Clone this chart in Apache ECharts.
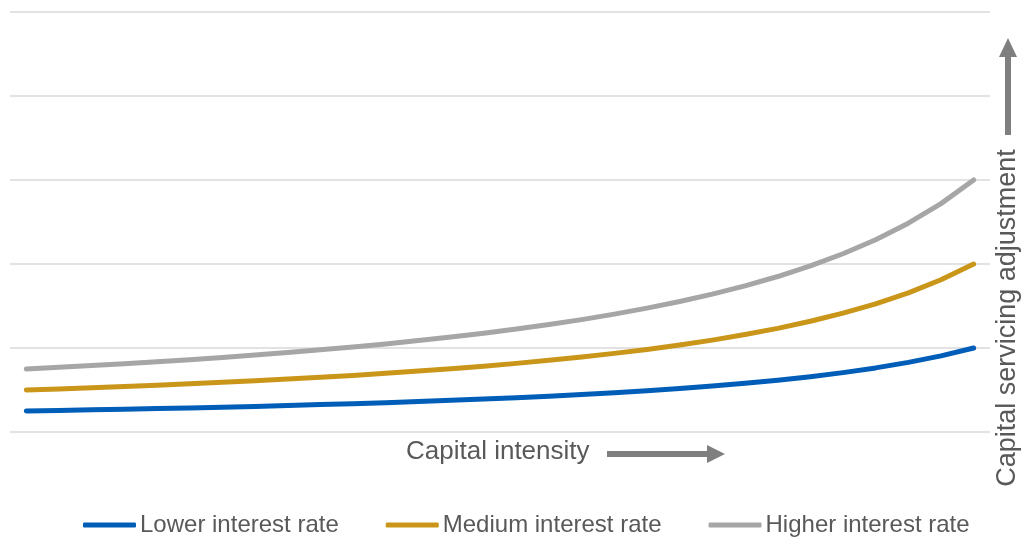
<!DOCTYPE html>
<html>
<head>
<meta charset="utf-8">
<script src="https://cdn.jsdelivr.net/npm/echarts@6/dist/echarts.min.js"></script>
<style>
  html, body { margin: 0; padding: 0; background: #fff; }
  #chart { width: 1026px; height: 537px; }
</style>
</head>
<body>
<div id="chart"></div>
<script>
// capital intensity steps (no labels shown on the chart)
const steps = Array.from({ length: 30 }, (_, i) => String(i + 1));

const lowerRate = [0.250, 0.257, 0.264, 0.271, 0.279, 0.287, 0.296, 0.305, 0.315, 0.326,
    0.337, 0.349, 0.363, 0.377, 0.392, 0.408, 0.426, 0.446, 0.468, 0.492,
    0.518, 0.547, 0.580, 0.617, 0.659, 0.707, 0.763, 0.829, 0.906, 1.000];
const mediumRate = [0.500, 0.513, 0.527, 0.542, 0.558, 0.574, 0.592, 0.611, 0.630, 0.652,
    0.674, 0.699, 0.725, 0.753, 0.784, 0.817, 0.853, 0.892, 0.936, 0.983,
    1.036, 1.094, 1.160, 1.234, 1.318, 1.415, 1.526, 1.657, 1.813, 2.000];
const higherRate = [0.750, 0.770, 0.791, 0.813, 0.837, 0.861, 0.888, 0.916, 0.946, 0.978,
    1.012, 1.048, 1.088, 1.130, 1.176, 1.225, 1.279, 1.338, 1.403, 1.475,
    1.554, 1.642, 1.740, 1.851, 1.977, 2.122, 2.289, 2.486, 2.719, 3.000];

const seriesNames = ['Lower interest rate', 'Medium interest rate', 'Higher interest rate'];
const colors = ['#005EB8', '#C9961A', '#A6A6A6'];

let myChart = echarts.init(document.getElementById('chart'));

const textColor = '#595959';
const arrowColor = '#7F7F7F';

myChart.setOption({
    animation: false,
    color: colors,
    grid: { left: 10, right: 36, top: 12, bottom: 105 },
    xAxis: {
        type: 'category',
        data: steps,
        boundaryGap: true,
        axisLine: { show: false },
        axisTick: { show: false },
        axisLabel: { show: false }
    },
    yAxis: {
        type: 'value',
        min: 0,
        max: 5,
        interval: 1,
        axisLabel: { show: false },
        axisLine: { show: false },
        axisTick: { show: false },
        splitLine: { lineStyle: { color: '#D9D9D9', width: 1.5 } }
    },
    legend: {
        left: 78,
        top: 508,
        itemWidth: 53,
        itemHeight: 5,
        itemGap: 47,
        icon: 'roundRect',
        textStyle: { color: textColor, fontSize: 24, fontFamily: 'Liberation Sans', padding: [0, 0, 0, -1] },
        data: seriesNames
    },
    series: [lowerRate, mediumRate, higherRate].map((vals, i) => ({
        name: seriesNames[i],
        type: 'line',
        data: vals,
        symbol: 'none',
        smooth: false,
        lineStyle: { width: 5, cap: 'round', join: 'round' }
    })),
    graphic: [
        {
            type: 'text',
            left: 406,
            top: 439,
            style: { text: 'Capital intensity', fill: textColor, fontSize: 26, fontFamily: 'Liberation Sans' }
        },
        {
            type: 'polygon',
            shape: { points: [[607, 451], [707, 451], [707, 445], [725, 454], [707, 463], [707, 457], [607, 457]] },
            style: { fill: arrowColor }
        },
        {
            type: 'text',
            x: 1008,
            y: 318,
            rotation: Math.PI / 2,
            style: {
                text: 'Capital servicing adjustment',
                fill: textColor,
                fontSize: 27,
                fontFamily: 'Liberation Sans',
                align: 'center',
                verticalAlign: 'middle'
            }
        },
        {
            type: 'polygon',
            shape: { points: [[1005, 135], [1005, 57], [999, 57], [1008, 38], [1017, 57], [1011, 57], [1011, 135]] },
            style: { fill: arrowColor }
        }
    ]
});
</script>
</body>
</html>
